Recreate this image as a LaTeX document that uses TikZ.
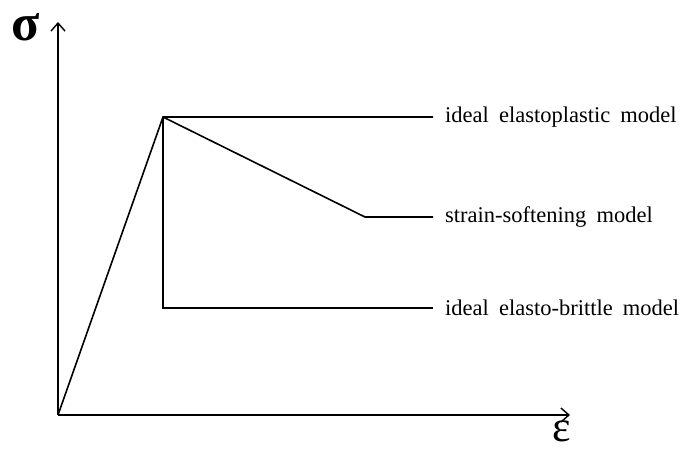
\documentclass[tikz,border=0pt]{standalone}
\usepackage{fontspec}
\setmainfont{Liberation Serif}
\newfontfamily\labelfont[WordSpace=1.8]{Liberation Serif}
\usetikzlibrary{positioning, arrows.meta}

\begin{document}
\begin{tikzpicture}[x=1pt, y=-1pt,
    curve/.style={line width=1.6pt, black},
    axis/.style={line width=1.6pt, -{Straight Barb[length=8pt,width=14pt,line width=1.4pt]}},
    modellabel/.style={anchor=west, font=\labelfont\fontsize{22.5}{24}\selectfont, inner sep=0pt}]
          \useasboundingbox (0,0) rectangle (686,452);
          % axes
          \coordinate (O) at (58,415);
          \coordinate (ytip) at (58,22);
          \coordinate (xtip) at (570,415);
          \draw[axis] (O) -- (ytip);
          \draw[axis] (O) -- (xtip);
          \node[font=\fontsize{52}{52}\selectfont\bfseries, inner sep=0pt, anchor=base, text depth=0pt] (sig) at (26,41) {σ};
          \node[font=\fontsize{44}{44}\selectfont, inner sep=0pt, anchor=base, text depth=0pt] (eps) at (562,441) {ε};
          % curves
          \coordinate (peak) at (163,117);
          \coordinate (soft) at (365,217);
          \coordinate (drop) at (163,308);
          \coordinate (endA) at (433,117);
          \coordinate (endB) at (433,217);
          \coordinate (endC) at (433,308);
          \draw[curve] (O) -- (peak) -- (endA);
          \draw[curve] (peak) -- (soft) -- (endB);
          \draw[curve] (peak) -- (drop) -- (endC);
          % labels
          \node[modellabel] (labA) at (445,117) {ideal elastoplastic model};
          \node[modellabel] (labB) at (445,217) {strain-softening model};
          \node[modellabel] (labC) at (445,308) {ideal elasto-brittle model};
        \end{tikzpicture}
\end{document}
